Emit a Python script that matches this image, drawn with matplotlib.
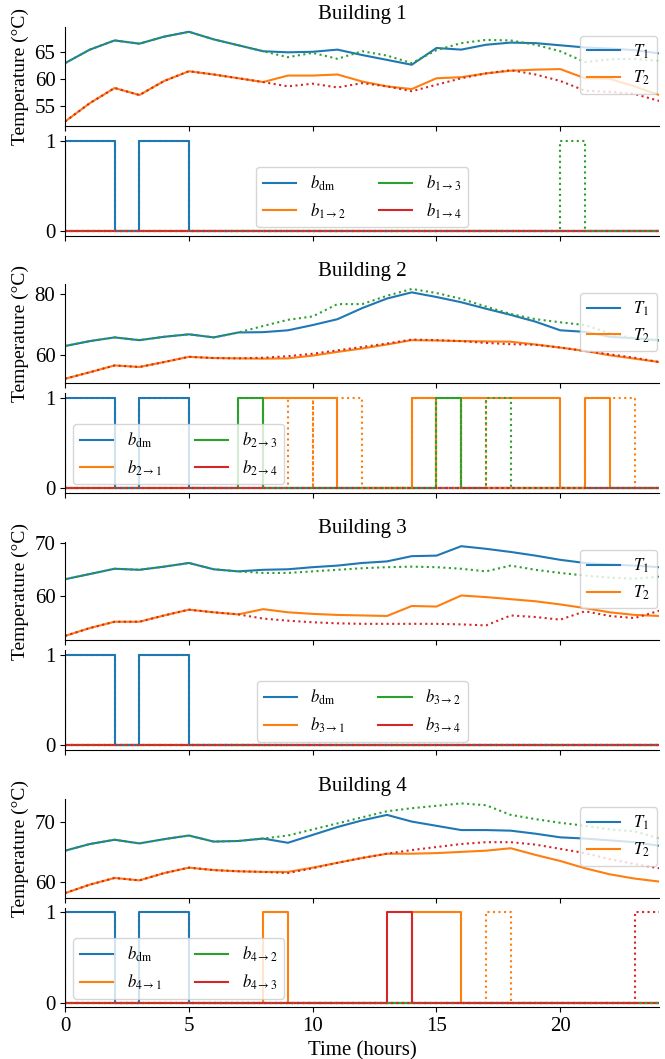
import matplotlib
matplotlib.use("Agg")
import matplotlib.pyplot as plt
import numpy as np

plt.rcParams['font.family'] = ['Liberation Serif', 'DejaVu Serif']
plt.rcParams['mathtext.fontset'] = 'stix'
plt.rcParams['font.size'] = 15

# ---------------- data ----------------
hours = np.arange(25)

# Building 1
b1_T1 = [63.0, 65.5, 67.2, 66.6, 67.9, 68.8, 67.4, 66.3, 65.2, 65.0, 65.1, 65.5, 64.5,
         63.6, 62.7, 65.8, 65.5, 66.4, 66.8, 66.7, 66.3, 65.9, 65.7, 65.4, 64.8]
b1_T1_alt = [63.0, 65.5, 67.2, 66.6, 67.9, 68.8, 67.4, 66.3, 65.2, 64.1, 64.9, 63.8, 65.2,
             64.4, 63.0, 65.4, 66.7, 67.3, 67.2, 66.4, 65.2, 63.2, 63.7, 63.8, 63.4]
b1_T2 = [52.2, 55.6, 58.4, 57.1, 59.7, 61.5, 60.9, 60.2, 59.5, 60.7, 60.7, 60.9, 59.6,
         58.7, 58.2, 60.2, 60.4, 61.1, 61.6, 61.8, 61.9, 60.2, 60.1, 58.7, 57.1]
b1_T2_alt = [52.2, 55.6, 58.4, 57.1, 59.7, 61.5, 60.9, 60.2, 59.5, 58.7, 59.2, 58.5, 59.3,
             58.7, 57.8, 59.0, 60.2, 61.1, 61.7, 60.9, 59.7, 57.9, 57.7, 57.3, 56.0]

# Building 2
b2_T1 = [63.0, 64.6, 65.8, 64.9, 66.0, 66.8, 65.8, 67.4, 67.5, 68.1, 69.8, 71.7, 75.3,
         78.4, 80.4, 78.9, 77.2, 75.1, 73.1, 70.9, 68.1, 67.6, 66.0, 65.5, 64.9]
b2_T1_alt = [63.0, 64.6, 65.8, 64.9, 66.0, 66.8, 65.8, 67.4, 69.5, 71.5, 72.6, 76.6, 76.6,
             79.3, 81.5, 80.2, 78.3, 75.8, 73.4, 71.7, 70.7, 69.8, 67.1, 65.5, 64.7]
b2_T2 = [52.4, 54.5, 56.7, 56.2, 57.8, 59.5, 59.1, 59.0, 58.9, 59.0, 59.9, 61.1, 62.2,
         63.5, 64.9, 64.8, 64.6, 64.5, 64.4, 63.5, 62.5, 61.4, 60.0, 58.9, 57.8]
b2_T2_alt = [52.4, 54.5, 56.7, 56.2, 57.8, 59.5, 59.1, 59.0, 59.2, 59.7, 60.5, 61.6, 62.7,
             63.8, 65.1, 64.9, 64.6, 64.0, 63.6, 63.4, 62.5, 61.4, 60.3, 59.2, 57.8]

# Building 3
b3_T1 = [63.1, 64.1, 65.1, 64.9, 65.5, 66.2, 65.0, 64.6, 64.9, 65.0, 65.4, 65.7, 66.2,
         66.5, 67.5, 67.6, 69.4, 68.9, 68.3, 67.6, 66.8, 66.2, 65.9, 65.7, 65.4]
b3_T1_alt = [63.1, 64.1, 65.1, 64.9, 65.5, 66.2, 65.0, 64.6, 64.3, 64.3, 64.6, 64.9, 65.2,
             65.4, 65.5, 65.4, 65.1, 64.6, 65.7, 64.9, 64.3, 63.8, 63.4, 63.2, 63.6]
b3_T2 = [52.3, 53.8, 55.0, 55.0, 56.2, 57.3, 56.8, 56.4, 57.4, 56.8, 56.5, 56.3, 56.2,
         56.1, 58.0, 57.9, 60.0, 59.7, 59.3, 58.9, 58.3, 57.6, 56.8, 56.3, 56.1]
b3_T2_alt = [52.3, 53.8, 55.0, 55.0, 56.2, 57.3, 56.8, 56.4, 55.6, 55.2, 54.9, 54.7, 54.6,
             54.6, 54.6, 54.6, 54.5, 54.3, 56.2, 55.9, 55.4, 57.0, 56.1, 55.7, 57.1]

# Building 4
b4_T1 = [65.2, 66.3, 67.0, 66.4, 67.1, 67.7, 66.7, 66.8, 67.2, 66.5, 67.8, 69.1, 70.2,
         71.1, 70.0, 69.3, 68.6, 68.6, 68.5, 68.0, 67.4, 67.2, 66.9, 66.6, 66.0]
b4_T1_alt = [65.2, 66.3, 67.0, 66.4, 67.1, 67.7, 66.7, 66.8, 67.2, 67.7, 68.7, 69.7, 70.7,
             71.7, 72.2, 72.6, 73.0, 72.7, 71.1, 70.4, 69.8, 69.3, 68.7, 68.4, 67.2]
b4_T2 = [58.2, 59.6, 60.7, 60.3, 61.5, 62.4, 62.0, 61.8, 61.7, 61.7, 62.4, 63.2, 64.0,
         64.7, 64.7, 64.8, 65.0, 65.2, 65.6, 64.5, 63.5, 62.3, 61.3, 60.6, 60.1]
b4_T2_alt = [58.2, 59.6, 60.7, 60.3, 61.5, 62.4, 62.0, 61.8, 61.7, 61.5, 62.3, 63.2, 64.0,
             64.7, 65.3, 65.8, 66.3, 66.6, 66.6, 66.2, 65.5, 64.8, 63.8, 63.0, 62.3]

temps = [
    (b1_T1, b1_T2, b1_T1_alt, b1_T2_alt),
    (b2_T1, b2_T2, b2_T1_alt, b2_T2_alt),
    (b3_T1, b3_T2, b3_T1_alt, b3_T2_alt),
    (b4_T1, b4_T2, b4_T1_alt, b4_T2_alt),
]
temp_yticks = [[55, 60, 65], [60, 80], [60, 70], [60, 70]]
time_ticks = [0, 5, 10, 15, 20]

# binary decisions: hours during which each binary is on (start, end)
dm_on = [(0, 2), (3, 5)]
b1_solid = [dm_on, [], [], []]
b1_dotted = [dm_on, [], [(20, 21)], []]
b2_solid = [dm_on, [(8, 11), (14, 15), (16, 20), (21, 22)], [(7, 8), (15, 16)], []]
b2_dotted = [dm_on, [(9, 10), (10, 12), (14, 15), (16, 17), (21, 23)], [(7, 8), (15, 16), (17, 18)], []]
b3_solid = [dm_on, [], [], []]
b3_dotted = [dm_on, [], [], []]
b4_solid = [dm_on, [(8, 9), (14, 16)], [], [(13, 14)]]
b4_dotted = [dm_on, [(17, 18)], [], [(23, 24)]]
binaries = [(b1_solid, b1_dotted), (b2_solid, b2_dotted),
            (b3_solid, b3_dotted), (b4_solid, b4_dotted)]

bin_labels = [
    [r'$b_{\mathrm{dm}}$', r'$b_{1\rightarrow 2}$', r'$b_{1\rightarrow 3}$', r'$b_{1\rightarrow 4}$'],
    [r'$b_{\mathrm{dm}}$', r'$b_{2\rightarrow 1}$', r'$b_{2\rightarrow 3}$', r'$b_{2\rightarrow 4}$'],
    [r'$b_{\mathrm{dm}}$', r'$b_{3\rightarrow 1}$', r'$b_{3\rightarrow 2}$', r'$b_{3\rightarrow 4}$'],
    [r'$b_{\mathrm{dm}}$', r'$b_{4\rightarrow 1}$', r'$b_{4\rightarrow 2}$', r'$b_{4\rightarrow 3}$'],
]
bin_legend_loc = ['lower center', 'lower left', 'lower center', 'lower left']
T_END = 24


def pulse_path(intervals, t_end):
    xs, ys = [0.0], [0.0]
    ended_high = False
    for s, e in intervals:
        xs += [s, s]
        ys += [0, 1]
        if e < t_end:
            xs += [e, e]
            ys += [1, 0]
        else:
            xs += [e]
            ys += [1]
            ended_high = True
    if not ended_high:
        xs.append(t_end)
        ys.append(0)
    return xs, ys


# ---------------- figure ----------------
W, H = 665, 1059
fig = plt.figure(figsize=(W / 100, H / 100), dpi=100)
colors = ['C0', 'C1', 'C2', 'C3']

left = 65.1 / W
width = 594.2 / W
h_t = 98.7
h_b = 99.5
axes_bin = []
for i in range(4):
    top_t = 27.3 + 257.2 * i
    top_b = top_t + 108.7
    axT = fig.add_axes([left, 1 - (top_t + h_t) / H, width, h_t / H])
    axB = fig.add_axes([left, 1 - (top_b + h_b) / H, width, h_b / H])
    axes_bin.append(axB)

    T1, T2, T1a, T2a = temps[i]
    axT.plot(hours, T1, color='C0', lw=1.5, label=r'$T_1$')
    axT.plot(hours, T2, color='C1', lw=1.5, label=r'$T_2$')
    axT.plot(hours, T1a, color='C2', lw=1.5, ls=':')
    axT.plot(hours, T2a, color='C3', lw=1.5, ls=':')
    axT.set_yticks(temp_yticks[i])
    axT.set_title(f'Building {i + 1}', fontsize=15)
    axT.set_ylabel('Temperature (°C)', fontsize=14)
    axT.legend(loc='upper right', bbox_to_anchor=(1.01, 1.0), fontsize=12)
    axT.set_xlim(0, T_END)
    axT.set_xticks(time_ticks)
    axT.tick_params(labelbottom=False)
    for sp in ('top', 'right'):
        axT.spines[sp].set_visible(False)

    solid, dotted = binaries[i]
    for k in range(4):
        xs, ys = pulse_path(solid[k], T_END)
        axB.plot(xs, ys, color=colors[k], lw=1.5, label=bin_labels[i][k])
    for k in range(4):
        xs, ys = pulse_path(dotted[k], T_END)
        axB.plot(xs, ys, color=colors[k], lw=1.5, ls=':')
    axB.set_yticks([0, 1])
    axB.set_xlim(0, T_END)
    axB.set_xticks(time_ticks)
    axB.legend(loc=bin_legend_loc[i], ncol=2, fontsize=12)
    for sp in ('top', 'right'):
        axB.spines[sp].set_visible(False)
    if i < 3:
        axB.tick_params(labelbottom=False)

axes_bin[-1].set_xlabel('Time (hours)', fontsize=15)

fig.savefig('out.png', dpi=100)
